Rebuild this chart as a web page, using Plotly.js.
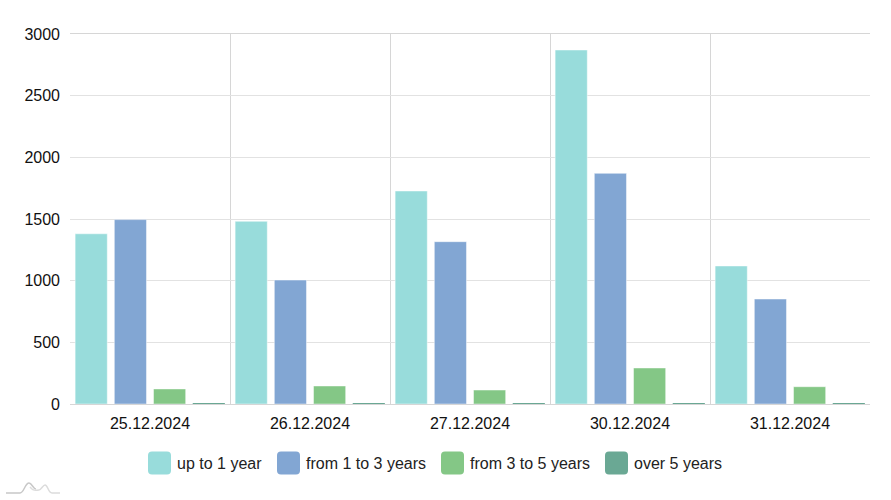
<!DOCTYPE html>
<html>
<head>
<meta charset="utf-8">
<script src="https://cdn.plot.ly/plotly-3.0.1.min.js"></script>
<style>
  html, body { margin: 0; padding: 0; background: #fff; }
  #chart { width: 891px; height: 500px; }
</style>
</head>
<body>
<div id="chart"></div>
<script>
// ---- data ----
const categories = ["25.12.2024", "26.12.2024", "27.12.2024", "30.12.2024", "31.12.2024"];
const seriesNames = ["up to 1 year", "from 1 to 3 years", "from 3 to 5 years", "over 5 years"];
const upTo1Year = [1380, 1481, 1727, 2870, 1119];
const from1To3Years = [1495, 1005, 1316, 1870, 851];
const from3To5Years = [122, 146, 113, 292, 140];
const over5Years = [9, 9, 9, 9, 9];
const seriesValues = [upTo1Year, from1To3Years, from3To5Years, over5Years];
const yTicks = [0, 500, 1000, 1500, 2000, 2500, 3000];

// ---- styles ----
const colors = ["#98dcdb", "#82a6d3", "#84c786", "#6aa894"];
const FONT = "Liberation Sans, Arial, sans-serif";

const traces = seriesNames.map((name, i) => ({
  type: "bar",
  name: name,
  x: categories,
  y: seriesValues[i],
  marker: { color: colors[i], line: { color: "rgba(255,255,255,0.45)", width: i === 3 ? 0 : 1 } },
  showlegend: false,
  hoverinfo: "skip"
}));

// manual legend (large rounded swatches)
const L = 70, T = 34, PW = 800, PH = 370;
const px2x = px => (px - L) / PW;
const py2y = py => (T + PH - py) / PH;
const legendLeft = [148, 277, 441, 605];
const legendY = 463;
const shapes = [];
const annotations = [];
const sw = 23, r = 4, h = sw / 2;
const swatchPath =
  `M${r},${-h} L${sw - r},${-h} Q${sw},${-h} ${sw},${-h + r} L${sw},${h - r} Q${sw},${h} ${sw - r},${h} ` +
  `L${r},${h} Q0,${h} 0,${h - r} L0,${-h + r} Q0,${-h} ${r},${-h} Z`;
seriesNames.forEach((name, i) => {
  shapes.push({
    type: "path", xref: "paper", yref: "paper",
    xsizemode: "pixel", ysizemode: "pixel",
    xanchor: px2x(legendLeft[i]), yanchor: py2y(legendY),
    path: swatchPath,
    fillcolor: colors[i], line: { width: 0 }
  });
  annotations.push({
    xref: "paper", yref: "paper",
    x: px2x(legendLeft[i] + sw + 4), y: py2y(legendY),
    xanchor: "left", yanchor: "middle",
    text: name, showarrow: false,
    font: { family: FONT, size: 16, color: "#222" }
  });
});

// small logo at bottom left
shapes.push({
  type: "path", xref: "paper", yref: "paper",
  xsizemode: "pixel", ysizemode: "pixel",
  xanchor: px2x(6), yanchor: py2y(493),
  path: "M0,0 L14,0 C18,0 19,10 23,10 C26,10 27,4 30,4",
  line: { color: "#c8c8c8", width: 1.5 }
});
shapes.push({
  type: "path", xref: "paper", yref: "paper",
  xsizemode: "pixel", ysizemode: "pixel",
  xanchor: px2x(6), yanchor: py2y(493),
  path: "M24,6 C28,1 30,3 33,3 C35,3 37,8 39,8 C42,8 42,0 46,0 L54,0",
  line: { color: "#dcdcdc", width: 1.5 }
});

const layout = {
  width: 891, height: 500,
  margin: { l: L, r: 891 - L - PW, t: T, b: 500 - T - PH, pad: 0 },
  paper_bgcolor: "#fff", plot_bgcolor: "#fff",
  font: { family: FONT, size: 16, color: "#111" },
  barmode: "group",
  bargap: 0.02,
  bargroupgap: 0.18,
  showlegend: false,
  xaxis: {
    type: "category",
    tickson: "boundaries",
    showgrid: true, gridcolor: "#d6d6d6", gridwidth: 1,
    showline: true, linecolor: "#d6d6d6", linewidth: 1, mirror: true,
    ticks: "", ticklabelstandoff: 5,
    tickfont: { family: FONT, size: 16, color: "#111" },
    fixedrange: true
  },
  yaxis: {
    range: [0, 3000],
    tickvals: yTicks,
    ticktext: yTicks.map(String),
    showgrid: true, gridcolor: "#e2e2e2", gridwidth: 1,
    zeroline: false,
    showline: false,
    ticks: "", ticklabelstandoff: 9,
    tickfont: { family: FONT, size: 16, color: "#111" },
    fixedrange: true
  },
  shapes: shapes,
  annotations: annotations
};

Plotly.newPlot("chart", traces, layout, { displayModeBar: false, staticPlot: true });
</script>
</body>
</html>
